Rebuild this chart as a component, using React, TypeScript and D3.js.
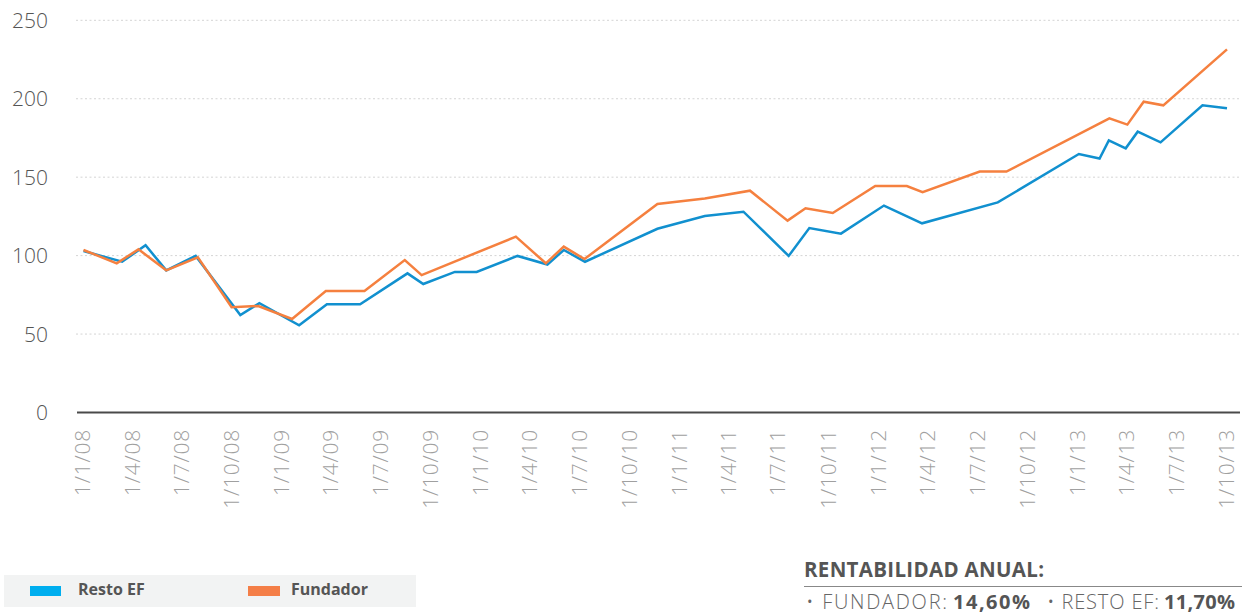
import React from "react";
import * as d3 from "d3";

const W = 1242;
const H = 616;

// Y axis ticks
const yTicks = [0, 50, 100, 150, 200, 250];

// X axis tick dates and labels (quarterly)
const xTickDates = [
  "2008-01-01", "2008-04-01", "2008-07-01", "2008-10-01",
  "2009-01-01", "2009-04-01", "2009-07-01", "2009-10-01",
  "2010-01-01", "2010-04-01", "2010-07-01", "2010-10-01",
  "2011-01-01", "2011-04-01", "2011-07-01", "2011-10-01",
  "2012-01-01", "2012-04-01", "2012-07-01", "2012-10-01",
  "2013-01-01", "2013-04-01", "2013-07-01", "2013-10-01",
];
const xTickLabels = [
  "1/1/08", "1/4/08", "1/7/08", "1/10/08",
  "1/1/09", "1/4/09", "1/7/09", "1/10/09",
  "1/1/10", "1/4/10", "1/7/10", "1/10/10",
  "1/1/11", "1/4/11", "1/7/11", "1/10/11",
  "1/1/12", "1/4/12", "1/7/12", "1/10/12",
  "1/1/13", "1/4/13", "1/7/13", "1/10/13",
];

// Series: Resto EF (blue)
const restoDates = [
  "2008-01-01", "2008-03-12", "2008-04-24", "2008-06-01", "2008-07-25",
  "2008-10-15", "2008-11-19", "2009-01-31", "2009-03-23", "2009-05-23",
  "2009-08-18", "2009-09-16", "2009-11-13", "2009-12-23", "2010-03-08",
  "2010-05-02", "2010-06-01", "2010-07-10", "2010-11-20", "2011-02-15",
  "2011-04-27", "2011-07-19", "2011-08-26", "2011-10-23", "2012-01-10",
  "2012-03-20", "2012-08-06", "2013-01-02", "2013-02-09", "2013-02-26",
  "2013-03-29", "2013-04-20", "2013-06-01", "2013-08-17", "2013-10-01",
];
const restoValues = [
  102.9, 96.1, 106.6, 90.6, 99.8,
  62.1, 69.7, 55.6, 69.0, 69.0,
  88.7, 81.9, 89.6, 89.6, 99.8,
  94.3, 103.6, 96.1, 117.1, 125.3,
  128.0, 99.8, 117.6, 114.0, 131.9,
  120.6, 133.9, 164.8, 161.9, 173.4,
  168.4, 179.0, 172.2, 195.8, 194.0,
];

// Series: Fundador (orange)
const fundadorDates = [
  "2008-01-01", "2008-03-02", "2008-04-11", "2008-06-01", "2008-07-29",
  "2008-09-29", "2008-11-17", "2009-01-18", "2009-03-21", "2009-05-31",
  "2009-08-13", "2009-09-13", "2010-03-05", "2010-04-29", "2010-06-01",
  "2010-07-09", "2010-11-20", "2011-02-15", "2011-05-09", "2011-07-17",
  "2011-08-19", "2011-10-08", "2011-12-25", "2012-02-21", "2012-03-21",
  "2012-07-04", "2012-08-22", "2013-02-27", "2013-04-01", "2013-05-01",
  "2013-06-06", "2013-10-01",
];
const fundadorValues = [
  103.6, 95.1, 104.0, 90.6, 98.9,
  67.1, 67.9, 59.6, 77.4, 77.4,
  97.2, 87.6, 112.1, 95.1, 105.7,
  97.8, 132.9, 136.4, 141.4, 122.3,
  130.2, 127.2, 144.4, 144.4, 140.4,
  153.6, 153.6, 187.5, 183.5, 198.1,
  195.8, 231.5,
];

const legendNames = ["Resto EF", "Fundador"];
const summaryTitle = "RENTABILIDAD ANUAL:";
const summaryLabels = ["FUNDADOR:", "RESTO EF:"];
const summaryValues = ["14,60%", "11,70%"];

const BLUE = "#1190cf";
const ORANGE = "#f5803f";
const BLUE_SW = "#00aeef";
const ORANGE_SW = "#f47e47";
const FONT = "'Open Sans', 'Lato', sans-serif";

const parse = d3.utcParse("%Y-%m-%d");

export default function App() {
  const x = d3
    .scaleUtc()
    .domain([parse("2008-01-01") as Date, parse("2013-10-01") as Date])
    .range([83.5, 1227]);
  const y = d3.scaleLinear().domain([0, 250]).range([412.5, 20.3]);

  const resto = restoDates.map((d, i) => ({ date: parse(d) as Date, value: restoValues[i] }));
  const fundador = fundadorDates.map((d, i) => ({ date: parse(d) as Date, value: fundadorValues[i] }));

  const line = d3
    .line<{ date: Date; value: number }>()
    .x((d) => x(d.date))
    .y((d) => y(d.value));

  return (
    <div style={{ position: "absolute", left: 0, top: 0, width: W, height: H }}>
      <svg width={W} height={H} style={{ display: "block" }} fontFamily={FONT}>
        <rect x={0} y={0} width={W} height={H} fill="#ffffff" />
        {/* gridlines */}
        {yTicks
          .filter((t) => t > 0)
          .map((t) => (
            <line
              key={"g" + t}
              x1={76}
              x2={1240}
              y1={y(t)}
              y2={y(t)}
              stroke="#d4d4d4"
              strokeWidth={1}
              strokeDasharray="2,2.5"
            />
          ))}
        {/* y labels */}
        {yTicks.map((t) => (
          <text
            key={"yl" + t}
            x={48}
            y={y(t) + 2}
            textAnchor="end"
            dominantBaseline="middle"
            fontSize={21}
            fontWeight={300}
            fill="#555"
          >
            {t}
          </text>
        ))}
        {/* x axis line */}
        <line x1={77} x2={1240} y1={y(0)} y2={y(0)} stroke="#4a4a4a" strokeWidth={2} />
        {/* x labels */}
        {xTickDates.map((d, i) => {
          const px = x(parse(d) as Date);
          return (
            <text
              key={"xl" + i}
              transform={`translate(${px + 1},429) rotate(-90)`}
              textAnchor="end"
              dominantBaseline="middle"
              fontSize={21}
              fontWeight={300}
              letterSpacing={0.8}
              fill="#a0a0a0"
            >
              {xTickLabels[i]}
            </text>
          );
        })}
        {/* lines */}
        <path d={line(resto) || ""} fill="none" stroke={BLUE} strokeWidth={2.5} strokeLinejoin="miter" />
        <path d={line(fundador) || ""} fill="none" stroke={ORANGE} strokeWidth={2.5} strokeLinejoin="miter" />

        {/* legend */}
        <rect x={4} y={575} width={412} height={32} fill="#f2f3f3" />
        <rect x={30} y={586} width={31} height={10} fill={BLUE_SW} />
        <text x={78} y={591} dominantBaseline="middle" fontSize={16} fontWeight={700} fill="#555">
          {legendNames[0]}
        </text>
        <rect x={248} y={586} width={32} height={10} fill={ORANGE_SW} />
        <text x={291} y={591} dominantBaseline="middle" fontSize={16} fontWeight={700} fill="#555">
          {legendNames[1]}
        </text>

        {/* summary */}
        <text x={804} y={577} fontSize={20.5} fontWeight={700} fill="#555" textLength={240} lengthAdjust="spacing">
          {summaryTitle}
        </text>
        <line x1={804} x2={1242} y1={586.5} y2={586.5} stroke="#888" strokeWidth={1} />
        <text x={806} y={609} fontSize={20} fontWeight={300} fill="#666" textLength={141} lengthAdjust="spacing">
          {"• " + summaryLabels[0]}
        </text>
        <text x={953} y={609} fontSize={20} fontWeight={700} fill="#555" textLength={77} lengthAdjust="spacing">
          {summaryValues[0]}
        </text>
        <text x={1047} y={609} fontSize={20} fontWeight={300} fill="#666" textLength={112} lengthAdjust="spacing">
          {"• " + summaryLabels[1]}
        </text>
        <text x={1164} y={609} fontSize={20} fontWeight={700} fill="#555" textLength={71} lengthAdjust="spacing">
          {summaryValues[1]}
        </text>
      </svg>
    </div>
  );
}
